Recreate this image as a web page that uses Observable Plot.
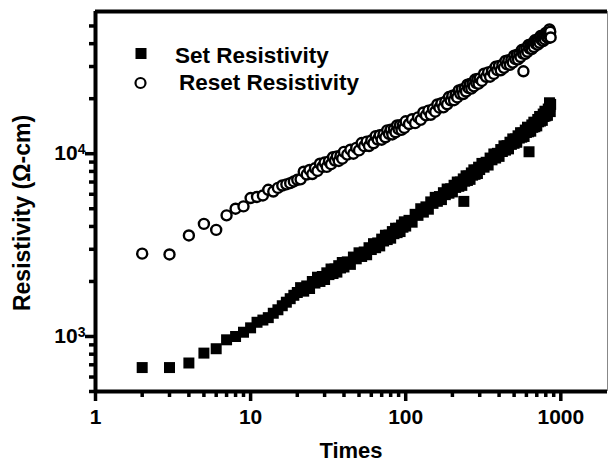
<!DOCTYPE html>
<html><head><meta charset="utf-8">
<script src="https://cdn.jsdelivr.net/npm/d3@7"></script>
<script src="https://cdn.jsdelivr.net/npm/@observablehq/plot@0.6"></script>
<style>
body{margin:0;background:#fff}
svg{font-family:"Liberation Sans",Arial,sans-serif}
svg text{font-weight:bold}
</style>
</head><body><div id="chart"></div>
<script>
// Set resistivity (filled squares)
const setTimes = [2,3,4,5,6,7,8,9,10,11,12,13,14,15,16,17,18,19,20,
  21,22,23,24,25,26,27,28,29,30,31,32,33,34,35,36,37,38,39,40,
  42,44,46,48,50,52,54,56,58,60,62,64,66,68,70,72,74,76,78,80,82,84,86,88,90,92,94,96,98,100,
  105,110,115,120,125,130,135,140,145,150,155,160,165,170,175,180,185,190,195,200,
  205,210,215,220,225,230,235,240,245,250,255,260,265,270,275,280,285,290,295,300,
  310,320,330,340,350,360,370,380,390,400,410,420,430,440,450,460,470,480,490,500,
  510,520,530,540,550,560,570,580,590,600,610,620,630,640,650,660,670,680,690,700,
  710,720,730,740,750,760,770,780,790,800,810,820,830,840,850,
  237,624,845,855,860];
const setValues = [676,676,716,811,857,959,1000,1055,1115,1196,1230,1268,1340,1400,1473,1540,1610,1680,1740,
  1850,1770,1890,1830,2000,1960,2110,2000,2130,2050,2230,2180,2340,2210,2340,2250,2440,2370,2540,2400,
  2560,2480,2720,2660,2870,2740,2900,2800,3060,2990,3220,3060,3250,3130,3410,3330,3580,3390,3590,3450,3750,3650,3910,3700,3910,3750,4070,3960,4240,4020,
  4320,4220,4660,4600,5000,4790,5120,4970,5450,5350,5770,5490,5830,5610,6120,5970,6410,6080,6430,6180,
  6720,6540,7000,6630,7000,6710,7280,7070,7570,7140,7550,7240,7850,7630,8160,7710,8130,7790,8440,8190,
  8850,8440,8980,8670,9470,9260,9970,9470,10050,9670,10540,10280,11040,10460,11070,10630,11560,11250,12050,11400,
  12040,11550,12530,12180,13030,12310,12980,12430,13470,13070,13970,13180,13890,13280,14380,13940,14880,14050,14830,14200,
  15400,14950,15990,15090,15910,15220,16490,15990,17080,16110,16970,16220,17560,17020,18160,
  5485,10250,19000,17000,18620];
// Reset resistivity (open circles)
const resetTimes = [2,3,4,5,6,7,8,9,10,11,12,13,14,15,16,17,18,19,20,
  21,22,23,24,25,26,27,28,29,30,31,32,33,34,35,36,37,38,39,40,
  42,44,46,48,50,52,54,56,58,60,62,64,66,68,70,72,74,76,78,80,82,84,86,88,90,92,94,96,98,100,
  105,110,115,120,125,130,135,140,145,150,155,160,165,170,175,180,185,190,195,200,
  205,210,215,220,225,230,235,240,245,250,255,260,265,270,275,280,285,290,295,300,
  310,320,330,340,350,360,370,380,390,400,410,420,430,440,450,460,470,480,490,500,
  510,520,530,540,550,560,570,580,590,600,610,620,630,640,650,660,670,680,690,700,
  710,720,730,740,750,760,770,780,790,800,810,820,830,840,850,
  574,845,855,860];
const resetValues = [2840,2810,3570,4130,3830,4600,5000,5150,5720,5800,5910,6350,6210,6500,6700,6800,6900,7050,7200,
  7240,7970,7690,8150,7740,8320,8050,8820,8470,8950,8470,9080,8760,9570,9170,9670,9130,9750,9400,10240,
  9890,10520,10000,10760,10430,11440,11000,11640,11020,11820,11410,12480,11960,12630,11930,12760,12300,13420,12830,13520,12750,13610,13100,14270,13630,14340,13500,14400,13830,15050,
  14540,15450,14700,15810,15320,16810,16220,17200,16330,17540,16970,18590,17860,18900,17940,19260,18640,20420,19610,20740,
  19630,21030,20310,22200,21280,22460,21220,22690,21880,23880,22850,24090,22720,24280,23370,25470,24350,25630,24150,25770,
  25000,27390,26330,27870,26390,28290,27330,29900,28660,30260,28600,30590,29500,32200,30820,32490,30650,32730,31510,34360,
  32920,34740,32810,35100,33820,36920,35330,37230,35130,37520,36120,39370,37640,39630,37350,39850,38340,41740,39860,41930,
  39500,42110,40470,44040,41980,44040,41380,44010,42200,45820,43630,45750,42960,45670,43770,
  28250,47860,46500,43250];

const xMajor = [1,10,100,1000];
const xMinor = [2,3,4,5,6,7,8,9,20,30,40,50,60,70,80,90,200,300,400,500,600,700,800,900];
const yMajor = [1000,10000];
const yMinor = [500,600,700,800,900,2000,3000,4000,5000,6000,7000,8000,9000,20000,30000,40000,50000];
const seriesNames = ["Set Resistivity","Reset Resistivity"];
const xTitle = "Times";
const yTitle = "Resistivity (\u03A9-cm)";

const setData = setTimes.map((t,i)=>({t, v:setValues[i]}));
const resetData = resetTimes.map((t,i)=>({t, v:resetValues[i]}));

const chart = Plot.plot({
  width:609, height:464,
  marginLeft:95, marginRight:2, marginTop:11, marginBottom:73,
  style:{fontFamily:"Liberation Sans, Arial, sans-serif", fontSize:"21px", color:"#000", background:"#fff"},
  x:{type:"log", domain:[1,2000]},
  y:{type:"log", domain:[500,60000]},
  marks:[
    Plot.dot(resetData, {x:"t", y:"v", r:5, stroke:"#000", strokeWidth:2.4, fill:"#fff"}),
    Plot.dot(setData, {x:"t", y:"v", r:6.2, symbol:"square", fill:"#000", stroke:"none"}),
    Plot.ruleX([2000], {stroke:"#888", strokeWidth:1}),
    Plot.ruleY([60000], {stroke:"#000", strokeWidth:4}),
    Plot.ruleX([1], {stroke:"#000", strokeWidth:4}),
    Plot.ruleY([500], {stroke:"#000", strokeWidth:4}),
    Plot.axisX({ticks:xMajor, tickSize:10, tickPadding:8, tickFormat:d=>String(d), strokeWidth:3.5, fontSize:21, fontWeight:"bold", label:null}),
    Plot.axisX({ticks:xMinor, tickSize:6, tickFormat:()=>" ", strokeWidth:3.5, label:null}),
    Plot.axisY({ticks:yMajor, tickSize:10, tickPadding:0, tickFormat:d=>String(d), strokeWidth:3.5, fontSize:21, fontWeight:"bold", label:null}),
    Plot.axisY({ticks:yMinor, tickSize:6, tickFormat:()=>" ", strokeWidth:3.5, label:null})
  ]
});
document.getElementById("chart").appendChild(chart);

const svg = d3.select(chart);
// superscript exponents on the y tick labels
svg.selectAll('g[aria-label="y-axis tick label"] text').each(function(){
  const s = this.textContent;
  if (s === "1000" || s === "10000") {
    const e = String(Math.round(Math.log10(+s)));
    const t = d3.select(this);
    t.text("10");
    t.append("tspan").attr("dy","-0.45em").attr("font-size","14px").text(e);
  }
});
// axis titles
svg.append("text").attr("x",351).attr("y",458).attr("text-anchor","middle")
  .attr("font-size","22px").attr("font-weight","bold").attr("fill","#000").text(xTitle);
svg.append("text").attr("transform","translate(29.5,213) rotate(-90)").attr("text-anchor","middle")
  .attr("font-size","23px").attr("font-weight","bold").attr("fill","#000").text(yTitle);
// legend
svg.append("rect").attr("x",135.5).attr("y",48).attr("width",11).attr("height",11).attr("fill","#000");
svg.append("text").attr("x",175).attr("y",63).attr("text-anchor","start").attr("font-size","22.5px").attr("font-weight","bold").attr("fill","#000").text(seriesNames[0]);
svg.append("circle").attr("cx",140.5).attr("cy",83).attr("r",5).attr("fill","#fff").attr("stroke","#000").attr("stroke-width",2.2);
svg.append("text").attr("x",179).attr("y",90).attr("text-anchor","start").attr("font-size","22.5px").attr("font-weight","bold").attr("fill","#000").text(seriesNames[1]);
</script>
</body></html>
